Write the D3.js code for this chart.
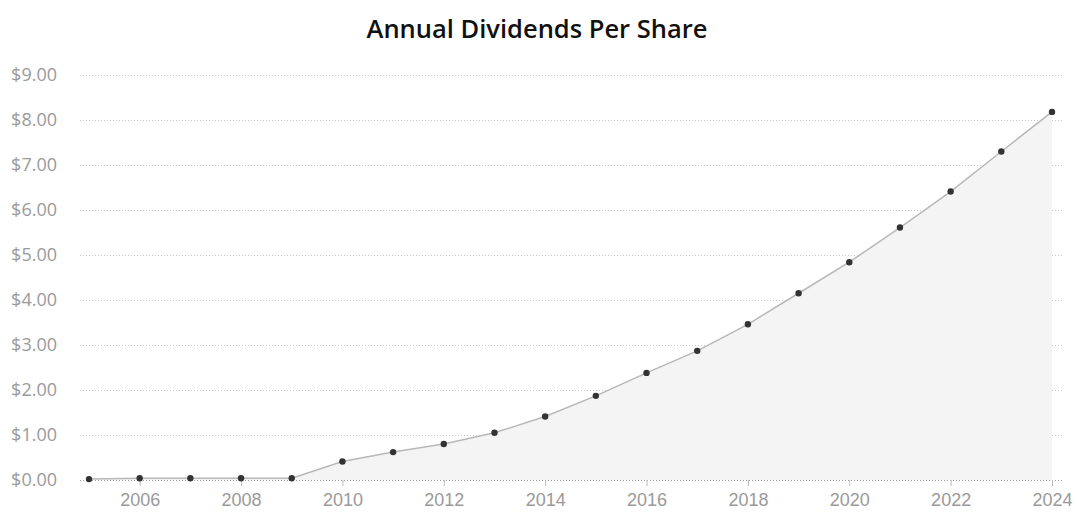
<!DOCTYPE html>
<html lang="en">
  <head>
    <meta charset="UTF-8" />
    <title>Annual Dividends Per Share</title>
    <script src="https://d3js.org/d3.v7.min.js"></script>
    <style>
      body {
        margin: 0;
        background: #fff;
        font-family: "Open Sans", "Noto Sans", sans-serif;
      }
      .grid line {
        stroke: #c8c8c8;
        stroke-dasharray: 1 2;
      }
      .axis text {
        fill: #9a9a9a;
        font-size: 18px;
      }
    </style>
  </head>
  <body>
    <svg id="chart" width="1077" height="529"></svg>
    <script>
      const years = [2005, 2006, 2007, 2008, 2009, 2010, 2011, 2012, 2013, 2014,
        2015, 2016, 2017, 2018, 2019, 2020, 2021, 2022, 2023, 2024];
      const dividends = [0.02, 0.04, 0.04, 0.04, 0.04, 0.41, 0.62, 0.8, 1.05, 1.41,
        1.87, 2.38, 2.87, 3.46, 4.15, 4.84, 5.61, 6.41, 7.3, 8.18];
      const yTicks = [0, 1, 2, 3, 4, 5, 6, 7, 8, 9];
      const xTicks = [2006, 2008, 2010, 2012, 2014, 2016, 2018, 2020, 2022, 2024];

      const data = years.map((y, i) => ({ year: y, value: dividends[i] }));

      const svg = d3.select("#chart");
      const plotLeft = 80, plotRight = 1062, plotTop = 75, plotBottom = 480;

      const x = d3.scaleLinear().domain([2005, 2024]).range([89, 1052]);
      const y = d3.scaleLinear().domain([0, 9]).range([plotBottom, plotTop]);

      svg.append("text")
        .attr("x", 537)
        .attr("y", 38)
        .attr("text-anchor", "middle")
        .attr("font-size", 25.5)
        .attr("font-weight", 600)
        .attr("fill", "#111")
        .text("Annual Dividends Per Share");

      // grid lines
      svg.append("g")
        .attr("class", "grid")
        .selectAll("line")
        .data(yTicks)
        .enter()
        .append("line")
        .attr("x1", plotLeft)
        .attr("x2", plotRight)
        .attr("y1", (d) => Math.round(y(d)) + 0.5)
        .attr("y2", (d) => Math.round(y(d)) + 0.5)
        .style("stroke", (d) => (d === 0 ? "#999" : null));

      // y labels
      svg.append("g")
        .attr("class", "axis")
        .selectAll("text")
        .data(yTicks)
        .enter()
        .append("text")
        .attr("x", 57)
        .attr("y", (d) => y(d))
        .attr("dy", "0.35em")
        .attr("text-anchor", "end")
        .text((d) => "$" + d.toFixed(2));

      // area + line
      svg.append("path")
        .datum(data)
        .attr("fill", "#f4f4f4")
        .attr("d", d3.area().x((d) => x(d.year)).y0(plotBottom).y1((d) => y(d.value)));

      svg.append("path")
        .datum(data)
        .attr("fill", "none")
        .attr("stroke", "#b8b8b8")
        .attr("stroke-width", 1.5)
        .attr("d", d3.line().x((d) => x(d.year)).y((d) => y(d.value)));

      // x axis
      const xAxis = svg.append("g")
        .attr("class", "axis")
        .attr("transform", `translate(0,${plotBottom})`)
        .call(d3.axisBottom(x).tickValues(xTicks).tickFormat(d3.format("d")).tickSize(6).tickPadding(7));
      xAxis.select(".domain").remove();
      xAxis.selectAll(".tick line").attr("stroke", "#bbb");

      svg.selectAll(".dot")
        .data(data)
        .enter()
        .append("circle")
        .attr("class", "dot")
        .attr("cx", (d) => x(d.year))
        .attr("cy", (d) => y(d.value))
        .attr("r", 3.2)
        .attr("fill", "#333");
    </script>
  </body>
</html>
